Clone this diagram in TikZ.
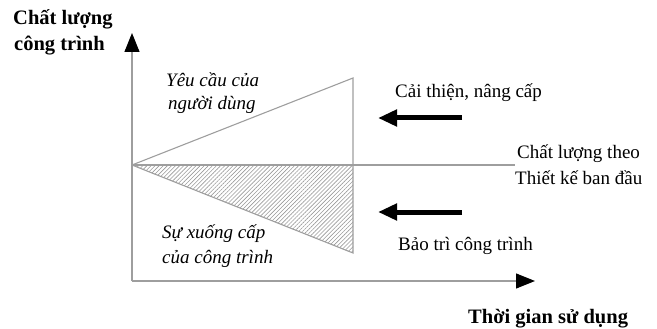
\documentclass[tikz,border=0pt]{standalone}
\usepackage{fontspec}
\setmainfont{Liberation Serif}
\usetikzlibrary{arrows.meta,patterns.meta}
\begin{document}
\begin{tikzpicture}[x=1pt,y=-1pt,
  axisline/.style={draw=black!38,line width=1.2pt},
  axisarrow/.style={axisline,-{Triangle[length=19pt,width=15pt,color=black]}},
  bigarrow/.style={draw=black,line width=5pt,-{Triangle[length=19pt,width=16pt]}},
  frame/.style={draw=black!38,line width=1.1pt},
  hatch/.style={pattern={Lines[angle=45,distance=2.9pt,line width=0.6pt]},pattern color=black!40},
  lbl/.style={anchor=base west,inner sep=0pt,font=\fontsize{19}{23}\selectfont},
  ilbl/.style={lbl,font=\fontsize{19}{23}\selectfont\itshape},
  blbl/.style={lbl,font=\fontsize{20.5}{24}\selectfont\bfseries}]
\useasboundingbox (0,0) rectangle (657,329);

% axes and reference points
\coordinate (O) at (132,165);
\coordinate (YB) at (132,281);
\coordinate (YT) at (132,33);
\coordinate (XT) at (535,281);
\coordinate (H) at (515,165);
\coordinate (TU) at (353,78);
\coordinate (TM) at (353,165);
\coordinate (TL) at (353,253);

% hatched lower triangle
\fill[hatch] (O) -- (TM) -- (TL) -- cycle;
\draw[frame] (O) -- (TL) -- (TM);
\draw[frame] (O) -- (TU) -- (TM);
\draw[frame] (O) -- (H);

\draw[axisarrow] (YB) -- (YT);
\draw[axisarrow] (YB) -- (XT);

% arrows on the right
\coordinate (a1s) at (462,118);
\coordinate (a1e) at (378,118);
\coordinate (a2s) at (462,212);
\coordinate (a2e) at (378,212);
\draw[bigarrow] (a1s) -- (a1e);
\draw[bigarrow] (a2s) -- (a2e);

% labels
\node[blbl] (yl1) at (13,25) {Chất lượng};
\node[blbl] (yl2) at (14,51) {công trình};
\node[ilbl] (u1) at (166,87) {Yêu cầu của};
\node[ilbl] (u2) at (168,110) {người dùng};
\node[lbl] (c1) at (395,98) {Cải thiện, nâng cấp};
\node[lbl] (d1) at (517,158) {Chất lượng theo};
\node[lbl] (d2) at (515,185) {Thiết kế ban đầu};
\node[lbl] (b1) at (398,250) {Bảo trì công trình};
\node[ilbl] (s1) at (162,238) {Sự xuống cấp};
\node[ilbl] (s2) at (162,263) {của công trình};
\node[blbl] (xl) at (468,323) {Thời gian sử dụng};
\end{tikzpicture}
\end{document}
